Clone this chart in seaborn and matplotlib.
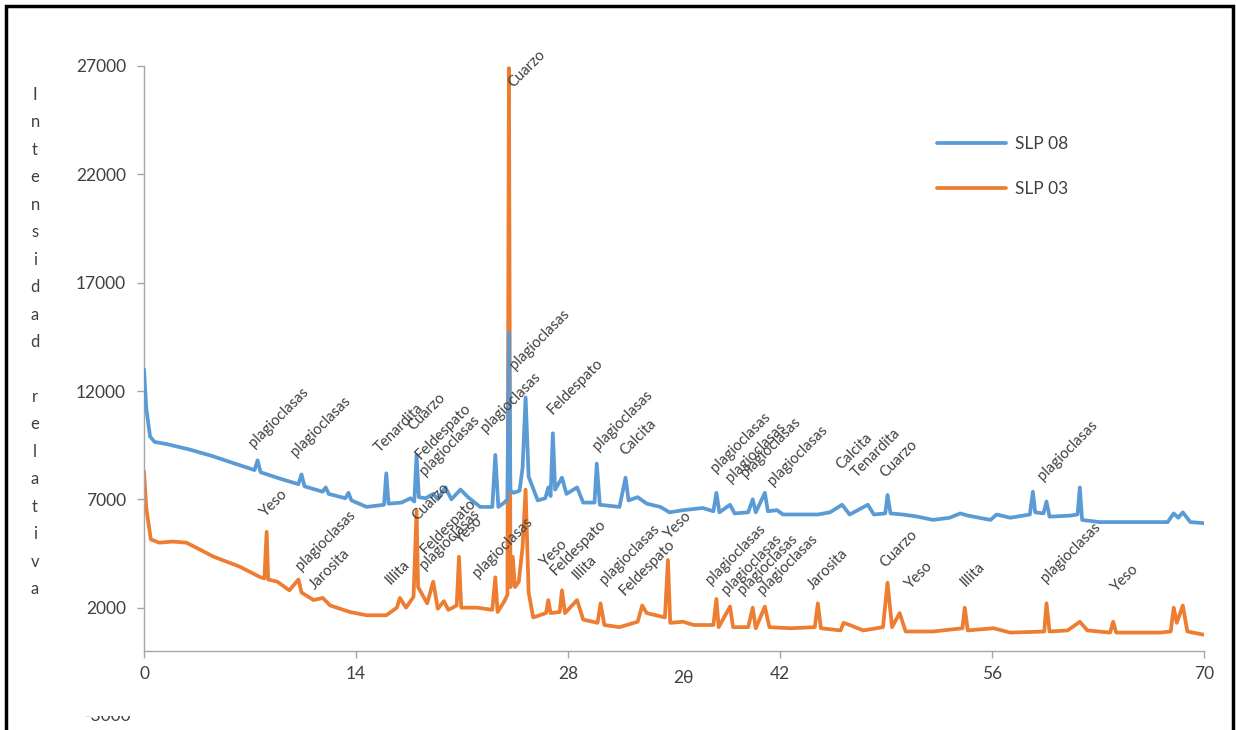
import matplotlib
matplotlib.use("Agg")
import matplotlib.pyplot as plt
import seaborn as sns
import pandas as pd
from matplotlib.patches import Rectangle
from matplotlib.transforms import Bbox, ScaledTranslation

sns.set_theme(style="white")
plt.rcParams['font.family'] = ['Lato', 'DejaVu Sans']

# --- Diffractogram SLP 08 (2θ, relative intensity) ---
two_theta_slp08 = [
    0.0, 0.15, 0.4, 0.7, 1.5, 3.0, 4.5, 6.0, 7.3, 7.5, 7.7, 9.0, 10.2, 10.4, 10.6,
    11.8, 12.0, 12.2, 13.3, 13.5, 13.7, 14.7, 15.85, 16.0, 16.15, 17.0, 17.6,
    17.85, 18.0, 18.15, 18.6, 19.1, 19.4, 19.9, 20.3, 20.9, 21.4, 22.2, 23.0,
    23.2, 23.4, 23.8, 24.0, 24.1, 24.2, 24.4, 24.8, 25.0, 25.2, 25.4, 26.0,
    26.5, 26.7, 26.85, 27.0, 27.15, 27.6, 27.9, 28.6, 29.0, 29.75, 29.9, 30.1,
    31.4, 31.8, 32.0, 32.6, 33.2, 34.1, 34.7, 35.6, 36.9, 37.6, 37.8, 38.0,
    38.7, 39.0, 39.9, 40.2, 40.4, 41.0, 41.2, 41.8, 42.2, 44.5, 45.3, 46.1,
    46.6, 47.8, 48.2, 48.95, 49.1, 49.3, 50.1, 51.1, 52.1, 53.2, 53.9, 54.4,
    55.9, 56.3, 57.2, 58.5, 58.7, 58.85, 59.4, 59.6, 59.8, 61.2, 61.65, 61.8,
    61.95, 63.1, 65.3, 67.6, 68.0, 68.3, 68.6, 69.1, 70.0,
]
intensity_slp08 = [
    13000, 11200, 9900, 9650, 9550, 9300, 9000, 8650, 8350, 8800, 8250, 7950, 7700, 8150, 7600,
    7350, 7550, 7250, 7050, 7300, 6950, 6650, 6750, 8200, 6800, 6850, 7050,
    6900, 9050, 7100, 7050, 7250, 7000, 7550, 7000, 7450, 7100, 6650, 6650,
    9050, 6650, 6850, 7000, 14700, 7400, 7300, 7400, 8450, 11700, 8050, 6950,
    7050, 7550, 7150, 10050, 7450, 8000, 7250, 7550, 6850, 6850, 8650, 6750,
    6650, 8000, 6950, 7100, 6800, 6650, 6400, 6500, 6600, 6450, 7300, 6400,
    6750, 6350, 6400, 7000, 6400, 7300, 6450, 6500, 6300, 6300, 6400, 6750,
    6300, 6750, 6300, 6350, 7200, 6350, 6300, 6200, 6050, 6150, 6350, 6250,
    6050, 6300, 6150, 6300, 7350, 6400, 6350, 6900, 6200, 6250, 6300, 7550,
    6050, 5950, 5950, 5950, 6350, 6150, 6400, 5950, 5900,
]

# --- Diffractogram SLP 03 (2θ, relative intensity) ---
two_theta_slp03 = [
    0.0, 0.15, 0.45, 1.0, 1.9, 2.8, 3.5, 4.6, 6.3, 7.7, 7.95, 8.1, 8.2, 8.8,
    9.6, 10.2, 10.4, 11.2, 11.8, 12.3, 13.6, 14.7, 16.0, 16.7, 16.9, 17.3,
    17.8, 18.0, 18.1, 18.3, 18.7, 19.1, 19.4, 19.8, 20.1, 20.65, 20.8, 20.95,
    22.0, 23.0, 23.2, 23.35, 23.8, 24.0, 24.1, 24.2, 24.35, 24.5, 24.75, 25.0,
    25.2, 25.4, 25.7, 26.55, 26.7, 26.85, 27.45, 27.6, 27.8, 28.6, 29.0, 29.95,
    30.15, 30.4, 31.4, 32.6, 32.9, 33.2, 34.4, 34.6, 34.75, 35.6, 36.3, 37.6,
    37.8, 37.95, 38.7, 38.9, 39.9, 40.2, 40.4, 41.0, 41.3, 42.7, 44.3, 44.5,
    44.7, 46.0, 46.2, 46.6, 47.5, 48.8, 49.1, 49.4, 49.9, 50.3, 52.1, 54.05,
    54.2, 54.4, 56.1, 57.2, 59.45, 59.6, 59.8, 61.0, 61.8, 62.3, 63.8, 64.0,
    64.2, 67.1, 67.8, 68.0, 68.2, 68.6, 68.9, 70.0,
]
intensity_slp03 = [
    8300, 6600, 5150, 5000, 5050, 5000, 4750, 4350, 3900, 3400, 3350, 5500, 3300, 3200,
    2800, 3300, 2700, 2350, 2450, 2100, 1800, 1650, 1650, 2000, 2450, 2000,
    2500, 6500, 2950, 2700, 2200, 3200, 1950, 2300, 1900, 2100, 4350, 2000,
    2000, 1900, 3400, 1800, 2300, 2600, 26900, 2950, 4350, 2950, 3200, 4800,
    7450, 2700, 1550, 1750, 2350, 1750, 1800, 2800, 1750, 2350, 1450, 1300,
    2200, 1200, 1100, 1350, 2100, 1750, 1550, 4200, 1300, 1350, 1200, 1200,
    2400, 1100, 2050, 1100, 1100, 2000, 1050, 2050, 1100, 1050, 1100, 2200,
    1050, 950, 1300, 1200, 950, 1100, 3150, 1100, 1750, 900, 900, 1050,
    2000, 950, 1050, 850, 900, 2200, 900, 950, 1350, 950, 850, 1350,
    850, 850, 900, 2000, 1300, 2100, 900, 750,
]

# --- Phase labels: name, 2θ position, intensity position ---
phase_labels = [
    "plagioclasas", "plagioclasas", "Tenardita", "Cuarzo", "Feldespato", "plagioclasas",
    "plagioclasas", "plagioclasas", "Feldespato", "plagioclasas", "Calcita",
    "plagioclasas", "plagioclasas", "plagioclasas", "plagioclasas",
    "Calcita", "Tenardita", "Cuarzo", "plagioclasas",
    "Cuarzo", "Yeso", "plagioclasas", "Jarosita", "Illita", "Cuarzo", "Feldespato",
    "plagioclasas", "Yeso", "plagioclasas", "Yeso", "Feldespato", "Illita",
    "plagioclasas", "Feldespato", "Yeso", "plagioclasas", "plagioclasas",
    "plagioclasas", "plagioclasas", "Jarosita", "Cuarzo", "Yeso", "Illita",
    "plagioclasas", "Yeso",
]
phase_x = [
    7.4, 10.2, 15.7, 17.9, 18.4, 18.7,
    22.7, 24.6, 27.1, 30.1, 31.9,
    37.9, 38.9, 39.9, 41.7,
    46.2, 47.2, 49.1, 59.5,
    24.5, 8.1, 10.5, 11.4, 16.4, 18.2, 18.7,
    18.7, 21.0, 22.2, 26.6, 27.3, 28.8,
    30.6, 31.9, 34.8, 37.6, 38.6,
    39.7, 41.0, 44.3, 49.1, 50.7, 54.4,
    59.7, 64.3,
]
phase_y = [
    9280, 8860, 9050, 10060, 8720, 7980,
    9970, 12870, 10800, 9140, 8900,
    8120, 7660, 7900, 7520,
    8260, 7890, 7890, 7750,
    25890, 6050, 3600, 2720, 2950, 5900, 4340,
    3650, 4800, 3280, 3740, 3370, 3180,
    2950, 2450, 5030, 2950, 2490,
    2490, 2490, 2720, 3740, 2720, 2860,
    3050, 2580,
]

x_ticks = [0, 14, 28, 42, 56, 70]
y_ticks = [2000, 7000, 12000, 17000, 22000, 27000]

BLUE = "#5B9BD5"
ORANGE = "#ED7D31"
TEXT = "#404040"
AXIS = "#A6A6A6"

df08 = pd.DataFrame({"2θ": two_theta_slp08, "Intensidad": intensity_slp08})
df03 = pd.DataFrame({"2θ": two_theta_slp03, "Intensidad": intensity_slp03})

fig = plt.figure(figsize=(12.36, 7.30), dpi=100)
fig.patch.set_facecolor("white")
ax = fig.add_axes([144 / 1236, 14 / 730, 1060 / 1236, 650 / 730])
ax.set_facecolor("white")

sns.lineplot(data=df03, x="2θ", y="Intensidad", color=ORANGE, lw=2.7,
             estimator=None, sort=False, label="SLP 03", ax=ax, zorder=2)
sns.lineplot(data=df08, x="2θ", y="Intensidad", color=BLUE, lw=2.7,
             estimator=None, sort=False, label="SLP 08", ax=ax, zorder=3)

ax.set_xlim(0, 70)
ax.set_ylim(-3000, 27000)
ax.set_xlabel("")
ax.set_ylabel("")
ax.set_xticks(x_ticks)
ax.set_yticks(y_ticks)

for side in ("top", "right"):
    ax.spines[side].set_visible(False)
ax.spines["bottom"].set_position(("data", 0))
ax.spines["left"].set_bounds(0, 27000)
for side in ("bottom", "left"):
    ax.spines[side].set_color(AXIS)
    ax.spines[side].set_linewidth(1.0)

ax.tick_params(axis="both", which="major", bottom=True, left=True, direction="out",
               length=5, width=1, color=AXIS, labelsize=12.5, labelcolor=TEXT)
ax.tick_params(axis="x", pad=6)
ax.tick_params(axis="y", pad=8)

# lowest value label of the intensity axis, partly cut at the lower edge
lbl = ax.text(0, -3000, "-3000", ha="right", va="center", fontsize=12.5, color=TEXT,
              transform=ax.transData + ScaledTranslation(-0.13, 0, fig.dpi_scale_trans))
lbl.set_clip_box(Bbox.from_extents(0, 0, 400, 14))
lbl.set_clip_on(True)

# axis title of the 2θ scale, on the tick-label row
ax.annotate("2θ", xy=(35.6, 0), xytext=(0, -14), textcoords="offset points",
            ha="center", va="top", fontsize=12.5, color=TEXT)

# vertical stacked title of the intensity axis
ytitle = "\n".join(list("Intensidad")) + "\n\n" + "\n".join(list("relativa"))
fig.text(35 / 1236, 1 - 342 / 730, ytitle, ha="center", va="center",
         fontsize=12, color=TEXT, linespacing=1.88)

# phase identification labels
for name, px, py in zip(phase_labels, phase_x, phase_y):
    ax.text(px, py, name, rotation=45, rotation_mode="anchor", ha="left", va="bottom",
            fontsize=10.7, color=TEXT, zorder=4)

handles, labels = ax.get_legend_handles_labels()
order = [labels.index("SLP 08"), labels.index("SLP 03")]
leg = ax.legend([handles[i] for i in order], [labels[i] for i in order],
                loc="upper left", bbox_to_anchor=(937 / 1236, 1 - 136 / 730),
                bbox_transform=fig.transFigure, frameon=False, fontsize=12.5,
                handlelength=4.0, handletextpad=0.5, labelspacing=1.68,
                borderpad=0, borderaxespad=0)
for t in leg.get_texts():
    t.set_color(TEXT)

# outer frame of the figure
fig.patches.append(Rectangle((5.5 / 1236, -0.1), (1232.5 - 5.5) / 1236, 1.1 - 5.5 / 730,
                             transform=fig.transFigure, fill=False, lw=2.5,
                             edgecolor="black", zorder=10))

fig.savefig("out.png", dpi=100)
